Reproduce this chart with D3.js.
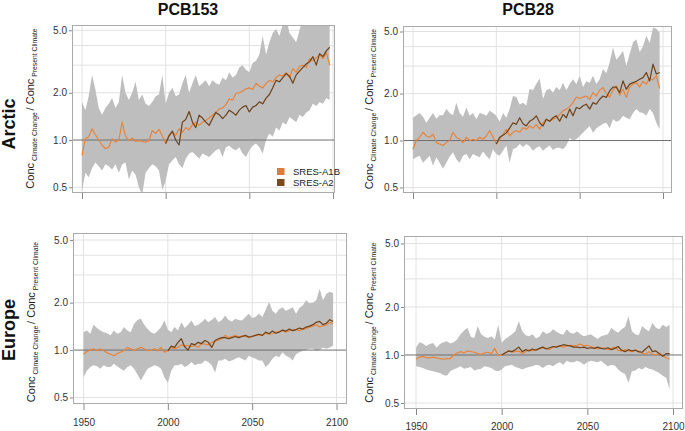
<!DOCTYPE html>
<html>
<head>
<meta charset="utf-8">
<script src="https://cdn.jsdelivr.net/npm/d3@7"></script>
<style>
  html, body { margin: 0; padding: 0; background: #fff; }
  svg { display: block; font-family: "Liberation Sans", Arial, sans-serif; }
</style>
</head>
<body>
<svg id="chart" width="685" height="431"></svg>
<script>
// ---------------- DATA ----------------
const years = d3.range(1950, 2100, 2);      // 1950..2098, 75 points
const yearsA2 = d3.range(2000, 2100, 2);    // 2000..2098, 50 points
const xTicks = [1950, 2000, 2050, 2100];
const yTicks = [0.5, 1.0, 2.0, 5.0];
const yGrid = [0.5, 2, 3, 4, 5];
const columnTitles = ["PCB153", "PCB28"];
const rowTitles = ["Arctic", "Europe"];
const seriesNames = ["SRES-A1B", "SRES-A2"];

// Arctic, PCB153
const arctic153Upper = [1.75,1.55,1.9,2.6,2.1,1.6,1.45,1.6,1.7,1.85, 1.6,1.75,2.6,2.0,1.8,2.0,2.35,1.8,1.95,1.7,
  1.65,1.75,1.9,1.95,2.6,1.7,2.0,2.15,1.9,1.95, 2.3,2.6,2.0,2.3,2.6,2.2,2.3,2.4,
  2.2,2.4,2.3,2.25,2.5,2.4,2.7,2.5,2.6,2.9, 3.0,2.8,2.7,3.1,3.2,3.5,4.6,3.5,4.2,4.8,
  5.1,4.6,5.5,6,4.8,4.5,4.2,5.0,6,6, 6,6,6,6,6,6,6];
const arctic153Lower = [0.47,0.62,0.58,0.66,0.72,0.68,0.64,0.7,0.68,0.65, 0.7,0.62,0.7,0.72,0.56,0.64,0.6,0.5,0.45,0.62,
  0.66,0.7,0.68,0.64,0.48,0.55,0.7,0.74,0.78,0.7, 0.66,0.76,0.82,0.84,0.8,0.76,0.82,0.8,
  0.78,0.82,0.86,0.88,0.78,0.9,0.92,0.88,0.86,0.9, 0.82,0.78,0.86,0.92,0.95,0.9,0.82,1.0,1.1,1.05,
  1.2,1.15,1.3,1.25,1.4,1.35,1.3,1.45,1.4,1.5, 1.55,1.7,1.65,1.75,1.7,1.85,1.8];
const arctic153A1B = [0.8,1.02,1.05,1.18,1.08,1.0,0.93,0.88,0.9,1.02, 0.97,1.0,1.3,1.06,0.99,1.03,0.98,0.99,0.98,0.97,
  0.99,1.15,1.1,1.17,1.06,0.95,1.08,1.12,1.07,1.18, 1.12,1.2,1.16,1.25,1.3,1.24,1.3,1.33,
  1.38,1.44,1.5,1.58,1.6,1.68,1.83,1.8,1.98,2.0, 2.05,2.12,2.15,2.1,2.3,2.2,2.15,2.3,2.4,2.35,
  2.5,2.6,2.55,2.7,2.5,2.85,2.7,2.95,3.0,2.9, 3.3,3.2,3.35,3.5,3.3,3.6,3.0];
const arctic153A2 = [0.95,1.06,1.14,1.0,0.93,1.3,1.35,1.52,1.3,1.2, 1.44,1.38,1.3,1.24,1.37,1.5,1.45,1.37,1.44,1.55,
  1.5,1.44,1.55,1.62,1.66,1.51,1.62,1.66,1.75,1.7, 1.85,1.95,2.15,2.4,2.35,2.5,2.65,2.55,2.3,2.6,
  2.75,2.9,3.05,3.15,3.4,3.0,3.55,3.4,3.7,3.9];

// Arctic, PCB28
const arctic28Upper = [1.4,1.45,1.5,1.42,1.3,1.4,1.5,1.38,1.45,1.45, 1.6,1.5,1.45,1.75,1.5,1.42,1.63,1.44,1.5,1.37,
  1.5,1.48,1.44,1.55,1.5,1.44,1.32,1.5,1.4,1.6, 1.93,1.9,1.7,1.75,1.68,2.15,2.1,2.3,
  2.5,1.85,2.1,2.15,2.03,2.2,2.1,2.35,2.1,2.3, 2.47,2.3,2.6,2.2,2.4,2.35,2.6,2.3,2.47,2.87,
  2.7,3.16,3.95,3.3,3.5,3.76,3.0,3.6,4.25,4.46, 3.7,4.0,4.69,4.2,5.3,5.2,4.9];
const arctic28Lower = [0.76,0.78,0.8,0.72,0.76,0.8,0.69,0.78,0.72,0.66, 0.72,0.79,0.84,0.76,0.72,0.8,0.82,0.76,0.82,0.8,
  0.78,0.85,0.8,0.76,0.88,0.82,0.8,0.86,0.93,0.72, 0.88,0.9,0.95,0.91,0.95,0.92,0.86,0.9,
  0.92,0.86,0.9,0.93,0.87,0.9,0.9,0.88,0.93,1.04, 1.0,1.02,1.07,1.12,1.18,1.24,1.12,1.2,1.24,1.28,
  1.3,1.2,1.37,1.32,1.35,1.44,1.4,1.37,1.5,1.59, 1.52,1.5,1.44,1.59,1.5,1.3,1.18];
const arctic28A1B = [0.88,1.0,1.05,1.13,1.07,1.05,1.1,0.97,0.95,0.93, 0.97,1.0,1.13,1.05,1.02,0.97,1.05,1.0,1.02,1.0,
  1.05,1.02,1.07,1.16,1.05,0.95,1.02,1.1,1.18,1.07, 1.13,1.16,1.13,1.21,1.18,1.24,1.2,1.27,
  1.18,1.3,1.37,1.33,1.37,1.4,1.47,1.55,1.59,1.65, 1.75,1.9,1.86,1.9,1.93,1.84,2.03,1.93,2.1,2.19,
  2.0,1.9,2.1,2.24,1.95,2.13,1.89,2.2,2.3,2.35, 2.2,2.4,2.3,2.5,2.45,2.6,2.15];
const arctic28A2 = [0.95,1.05,1.08,1.12,1.2,1.3,1.27,1.4,1.28,1.24, 1.33,1.37,1.44,1.3,1.24,1.37,1.33,1.4,1.44,1.33,
  1.47,1.4,1.59,1.44,1.63,1.6,1.67,1.71,1.59,1.75, 1.71,1.84,1.93,1.89,2.08,2.2,2.2,2.03,2.41,2.13,
  2.3,2.35,2.4,2.47,2.53,2.73,2.41,3.09,2.67,2.73];

// Europe, PCB153
const europe153Upper = [1.30,1.33,1.27,1.45,1.38,1.33,1.3,1.28,1.24,1.33, 1.27,1.3,1.4,1.33,1.3,1.47,1.55,1.58,1.45,1.36,
  1.3,1.27,1.32,1.4,1.54,1.35,1.3,1.4,1.33,1.5, 1.38,1.45,1.54,1.42,1.45,1.5,1.58,1.5,1.55,1.62,
  1.5,1.55,1.66,1.55,1.52,1.58,1.55,1.54,1.62,1.7, 1.6,1.62,1.7,1.62,1.8,2.02,1.78,1.7,1.82,1.87,
  1.78,1.82,1.87,1.7,1.85,1.92,2.07,1.98,2.0,2.07, 2.45,2.07,2.28,2.35,2.3];
const europe153Lower = [0.67,0.74,0.78,0.8,0.79,0.76,0.8,0.78,0.78,0.82, 0.79,0.76,0.74,0.78,0.8,0.76,0.7,0.64,0.7,0.76,
  0.78,0.8,0.79,0.76,0.67,0.62,0.74,0.8,0.8,0.82, 0.78,0.8,0.84,0.8,0.82,0.82,0.86,0.84,0.8,0.72,
  0.86,0.86,0.88,0.85,0.86,0.88,0.9,0.88,0.86,0.92, 0.9,0.88,0.86,0.86,0.78,0.82,0.88,0.92,0.9,0.97,
  0.92,0.9,0.86,0.94,0.97,0.99,1.0,1.02,1.02,0.99, 1.0,1.04,1.02,1.04,1.07];
const europe153A1B = [0.94,0.98,1.0,1.02,0.99,1.02,0.99,0.96,0.94,0.92, 0.95,0.97,0.99,1.04,1.02,0.99,1.02,1.04,1.02,0.99,
  1.0,1.02,0.99,1.04,0.97,0.99,1.04,1.02,1.04,1.08, 1.06,1.07,1.05,1.07,1.04,1.1,1.09,1.08,1.12,1.14,
  1.16,1.18,1.24,1.2,1.22,1.24,1.21,1.23,1.22,1.2, 1.23,1.24,1.25,1.24,1.28,1.26,1.27,1.3,1.31,1.33,
  1.3,1.33,1.34,1.35,1.33,1.36,1.37,1.4,1.42,1.45, 1.4,1.43,1.44,1.5,1.47];
const europe153A2 = [0.99,1.06,1.04,1.12,1.18,1.05,1.0,1.1,1.08,1.12, 1.1,1.15,1.12,1.04,1.15,1.18,1.2,1.2,1.18,1.2,
  1.22,1.2,1.22,1.24,1.21,1.22,1.24,1.26,1.24,1.3, 1.27,1.32,1.28,1.3,1.34,1.32,1.36,1.33,1.35,1.38,
  1.36,1.4,1.42,1.45,1.5,1.52,1.45,1.48,1.56,1.52];

// Europe, PCB28
const europe28Upper = [1.11,1.2,1.18,1.14,1.17,1.19,1.11,1.17,1.2,1.22, 1.18,1.2,1.25,1.35,1.42,1.48,1.3,1.28,1.52,1.35,
  1.3,1.28,1.31,1.25,1.55,1.19,1.26,1.3,1.35,1.41, 1.63,1.41,1.33,1.31,1.35,1.27,1.3,1.41,1.36,1.38,
  1.45,1.4,1.36,1.34,1.45,1.38,1.36,1.41,1.35,1.31, 1.33,1.35,1.3,1.26,1.31,1.33,1.35,1.48,1.42,1.38,
  1.45,1.5,1.75,1.41,1.35,1.33,1.52,1.45,1.41,1.59, 1.48,1.45,1.55,1.5,1.55];
const europe28Lower = [0.85,0.84,0.83,0.81,0.8,0.79,0.78,0.77,0.75,0.74, 0.79,0.81,0.83,0.85,0.82,0.83,0.84,0.8,0.81,0.82,
  0.85,0.84,0.83,0.8,0.79,0.81,0.85,0.86,0.87,0.84, 0.83,0.81,0.83,0.84,0.85,0.87,0.86,0.83,0.86,0.87,
  0.85,0.88,0.9,0.87,0.92,0.9,0.9,0.92,0.9,0.87, 0.9,0.92,0.91,0.9,0.92,0.88,0.85,0.87,0.86,0.81,
  0.78,0.76,0.67,0.79,0.8,0.83,0.81,0.84,0.82,0.81, 0.79,0.77,0.74,0.72,0.61];
const europe28A1B = [0.94,0.97,0.98,0.96,0.96,0.97,0.96,0.95,0.94,0.95, 0.95,1.0,1.03,1.05,1.03,1.06,1.05,1.04,1.02,1.01,
  1.03,1.04,1.02,1.1,0.99,1.0,1.03,1.06,1.04,1.05, 1.06,1.02,1.05,1.08,1.06,1.08,1.09,1.11,1.1,1.08,
  1.12,1.13,1.14,1.12,1.14,1.15,1.14,1.15,1.17,1.14, 1.15,1.13,1.11,1.09,1.1,1.11,1.08,1.1,1.12,1.07,
  1.06,1.08,1.06,1.05,1.08,1.04,1.03,1.01,1.05,1.01, 1.0,1.03,0.99,0.96,0.94];
const europe28A2 = [1.0,1.03,1.06,1.05,1.08,1.12,1.05,1.08,1.06,1.09, 1.07,1.1,1.12,1.09,1.11,1.13,1.12,1.14,1.16,1.15,
  1.14,1.12,1.12,1.11,1.12,1.1,1.11,1.1,1.12,1.1, 1.09,1.11,1.08,1.1,1.13,1.07,1.05,1.08,1.06,1.07,
  1.05,1.04,1.09,1.14,1.05,1.06,1.02,0.98,1.02,1.02];

// ---------------- LAYOUT ----------------
const colors = { band: "#bebebe", a1b: "#e8843c", a2: "#6e4219", a1bKey: "#dd7d3a", a2Key: "#7a4a1c" };

const panels = [
  { id: 0, upper: arctic153Upper, lower: arctic153Lower, a1b: arctic153A1B, a2: arctic153A2,
    box: { l: 72, r: 335, t: 25, b: 193 }, x0: 82, x1: 333, y5: 30.3, y05: 187.3, xLabels: false,
    ylab: { x: 34, y: 108.5 }, legend: true },
  { id: 1, upper: arctic28Upper, lower: arctic28Lower, a1b: arctic28A1B, a2: arctic28A2,
    box: { l: 403, r: 672, t: 26, b: 193 }, x0: 413, x1: 663, y5: 31.5, y05: 187.5, xLabels: false,
    ylab: { x: 373, y: 109 } },
  { id: 2, upper: europe153Upper, lower: europe153Lower, a1b: europe153A1B, a2: europe153A2,
    box: { l: 73, r: 347, t: 233, b: 404 }, x0: 83.5, x1: 336.5, y5: 240, y05: 397.5, xLabels: true, xPad: 9,
    ylab: { x: 35, y: 322 } },
  { id: 3, upper: europe28Upper, lower: europe28Lower, a1b: europe28A1B, a2: europe28A2,
    box: { l: 404, r: 683, t: 236, b: 409 }, x0: 416, x1: 673, y5: 243.5, y05: 403, xLabels: true, xPad: 8,
    ylab: { x: 373, y: 322.5 } }
];

const svg = d3.select("#chart");
const defs = svg.append("defs");

panels.forEach(p => {
  const x = d3.scaleLinear().domain([1950, 2100]).range([p.x0, p.x1]);
  const y = d3.scaleLog().domain([0.5, 5]).range([p.y05, p.y5]);
  const B = p.box;
  const g = svg.append("g");

  defs.append("clipPath").attr("id", "clip" + p.id)
    .append("rect").attr("x", B.l).attr("y", B.t).attr("width", B.r - B.l).attr("height", B.b - B.t);

  // grid
  const grid = g.append("g").attr("stroke", "#e2e2e2").attr("stroke-width", 1);
  grid.selectAll("line.h").data(yGrid).join("line")
    .attr("x1", B.l).attr("x2", B.r).attr("y1", d => y(d)).attr("y2", d => y(d));
  grid.selectAll("line.v").data(xTicks).join("line")
    .attr("y1", B.t).attr("y2", B.b).attr("x1", d => x(d)).attr("x2", d => x(d));

  const plot = g.append("g").attr("clip-path", `url(#clip${p.id})`);

  // band
  const bandData = years.map((yr, i) => ({ yr, lo: p.lower[i], hi: p.upper[i] }))
    .filter(d => d.lo != null && d.hi != null);
  plot.append("path").datum(bandData)
    .attr("fill", colors.band)
    .attr("d", d3.area().x(d => x(d.yr)).y0(d => y(d.lo)).y1(d => y(d.hi)));

  // reference line at 1.0
  plot.append("line").attr("x1", B.l).attr("x2", B.r).attr("y1", y(1)).attr("y2", y(1))
    .attr("stroke", "#6f6f6f").attr("stroke-width", 1);

  const line = d3.line().x(d => x(d[0])).y(d => y(d[1]));
  plot.append("path").datum(years.map((yr, i) => [yr, p.a1b[i]]).filter(d => d[1] != null))
    .attr("fill", "none").attr("stroke", colors.a1b).attr("stroke-width", 1.2)
    .attr("stroke-linejoin", "round").attr("d", line);
  plot.append("path").datum(yearsA2.map((yr, i) => [yr, p.a2[i]]).filter(d => d[1] != null))
    .attr("fill", "none").attr("stroke", colors.a2).attr("stroke-width", 1.2)
    .attr("stroke-linejoin", "round").attr("d", line);

  // box
  g.append("rect").attr("x", B.l + 0.5).attr("y", B.t + 0.5)
    .attr("width", B.r - B.l - 1).attr("height", B.b - B.t - 1)
    .attr("fill", "none").attr("stroke", "#aaaaaa").attr("stroke-width", 1);

  // y axis
  const ya = g.append("g").attr("transform", `translate(${B.l},0)`)
    .call(d3.axisLeft(y).tickValues(yTicks).tickFormat(d3.format(".1f")).tickSize(3).tickPadding(2));
  ya.select(".domain").remove();
  ya.selectAll(".tick line").attr("stroke", "#888");
  ya.selectAll(".tick text").attr("font-size", 10).attr("fill", "#333")
    .attr("font-family", "Liberation Sans, Arial, sans-serif");

  // x axis
  const xa = g.append("g").attr("transform", `translate(0,${B.b})`)
    .call(d3.axisBottom(x).tickValues(xTicks).tickSize(6).tickPadding(p.xPad || 3)
      .tickFormat(p.xLabels ? d3.format("d") : () => ""));
  xa.select(".domain").remove();
  xa.selectAll(".tick line").attr("stroke", "#888");
  xa.selectAll(".tick text").attr("font-size", 10).attr("fill", "#333")
    .attr("font-family", "Liberation Sans, Arial, sans-serif");

  // y axis label with subscripts
  const t = svg.append("text")
    .attr("transform", `translate(${p.ylab.x},${p.ylab.y}) rotate(-90)`)
    .attr("text-anchor", "middle").attr("fill", "#222");
  t.append("tspan").attr("font-size", 11).text("Conc");
  t.append("tspan").attr("font-size", 6.8).attr("dy", 2.5).text(" Climate Change ");
  t.append("tspan").attr("font-size", 11).attr("dy", -2.5).text("/ Conc");
  t.append("tspan").attr("font-size", 6.8).attr("dy", 2.5).text(" Present Climate");

  if (p.legend) {
    const lg = svg.append("g");
    const items = [{ name: seriesNames[0], c: colors.a1bKey }, { name: seriesNames[1], c: colors.a2Key }];
    items.forEach((it, i) => {
      lg.append("rect").attr("x", 277).attr("y", 168 + i * 11).attr("width", 7.5).attr("height", 7).attr("fill", it.c);
      lg.append("text").attr("x", 293).attr("y", 175 + i * 10.8).attr("font-size", 9.5).attr("fill", "#222").text(it.name);
    });
  }
});

// column titles
svg.selectAll("text.coltitle").data(columnTitles).join("text")
  .attr("class", "coltitle")
  .attr("x", (d, i) => [188, 528][i]).attr("y", 14.5)
  .attr("text-anchor", "middle").attr("font-size", 16).attr("font-weight", "bold").attr("fill", "#111")
  .text(d => d);

// row titles
svg.selectAll("text.rowtitle").data(rowTitles).join("text")
  .attr("class", "rowtitle")
  .attr("transform", (d, i) => `translate(15,${[124, 330][i]}) rotate(-90)`)
  .attr("text-anchor", "middle").attr("font-size", 18).attr("font-weight", "bold").attr("fill", "#111")
  .text(d => d);
</script>
</body>
</html>
